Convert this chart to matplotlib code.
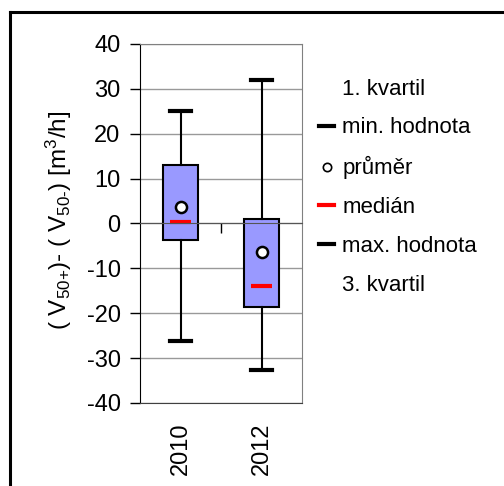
import matplotlib.pyplot as plt
from matplotlib.lines import Line2D

plt.rcParams['font.family'] = ['Liberation Sans', 'DejaVu Sans']
plt.rcParams['mathtext.fontset'] = 'custom'
plt.rcParams['mathtext.rm'] = 'Liberation Sans'
plt.rcParams['mathtext.it'] = 'Liberation Sans:italic'
plt.rcParams['axes.unicode_minus'] = False

years = ['2010', '2012']
whislo = [-26.1, -32.6]
q1 = [-3.7, -18.5]
med = [0.3, -13.9]
mean = [3.6, -6.3]
q3 = [13.1, 1.0]
whishi = [25.0, 32.0]

legend_labels = ['1. kvartil', 'min. hodnota', 'průměr', 'medián',
                 'max. hodnota', '3. kvartil']

fig = plt.figure(figsize=(5.04, 4.86), dpi=100)
ax = fig.add_axes([0.2778, 0.1708, 0.3214, 0.7387])

pos = [1, 2]
stats = [dict(whislo=whislo[i], q1=q1[i], med=med[i], mean=mean[i],
              q3=q3[i], whishi=whishi[i], fliers=[], label=years[i])
         for i in range(len(years))]
ax.bxp(stats, positions=pos, widths=0.42, showmeans=True, patch_artist=True,
       boxprops=dict(facecolor='#9999ff', edgecolor='black', linewidth=1.5),
       whiskerprops=dict(color='black', linewidth=1.5),
       capprops=dict(color='black', linewidth=3),
       capwidths=0.27,
       medianprops=dict(linestyle='none'),
       meanprops=dict(marker='o', markerfacecolor='white',
                      markeredgecolor='black', markersize=8, markeredgewidth=1.8,
                      zorder=5))
# median drawn shorter than the box, like the reference
ax.hlines(med, [p - 0.13 for p in pos], [p + 0.13 for p in pos],
          color='red', linewidth=3, zorder=4)

ax.set_xlim(0.5, 2.5)
ax.set_ylim(-40, 40)
ax.set_yticks(range(-40, 41, 10))
ax.yaxis.grid(True, color='#999999', linewidth=1)
ax.set_axisbelow(True)
ax.tick_params(axis='y', labelsize=17, length=7, width=1, color='black', pad=7)
ax.tick_params(axis='x', labelsize=17, length=0, pad=14, labelrotation=90)
ax.spines['left'].set_color('black')
ax.spines['bottom'].set_color('#404040')
for s in ['top', 'right']:
    ax.spines[s].set_color('#808080')
ax.set_ylabel(r'( V$_{\mathrm{50\text{+}}}$)- ( V$_{\mathrm{50\text{-}}}$) [m$^\mathrm{3}$/h]',
              fontsize=17.5)
ax.yaxis.set_label_coords(-0.41, 0.51)

# category axis crossing at zero
ax0 = ax.twiny()
ax0.set_xlim(ax.get_xlim())
ax0.xaxis.set_ticks_position('bottom')
ax0.spines['bottom'].set_position(('data', 0))
ax0.spines['bottom'].set_color('#555555')
for s in ['top', 'left', 'right']:
    ax0.spines[s].set_visible(False)
ax0.set_xticks([1.5])
ax0.set_xticklabels([])
ax0.tick_params(axis='x', length=7, width=1, color='black', direction='out')

handles = [
    Line2D([], [], color='none'),
    Line2D([], [], color='black', linewidth=3),
    Line2D([], [], linestyle='none', marker='o', markerfacecolor='white',
           markeredgecolor='black', markersize=6, markeredgewidth=1.2),
    Line2D([], [], color='red', linewidth=3),
    Line2D([], [], color='black', linewidth=3),
    Line2D([], [], color='none'),
]
fig.legend(handles, legend_labels, loc='upper left', bbox_to_anchor=(0.611, 0.861),
           frameon=False, fontsize=16, handlelength=0.68, handletextpad=0.36,
           labelspacing=0.8, borderpad=0)

# outer frame
fig.add_artist(Line2D([10 / 504, 10 / 504], [0, 1 - 12 / 486],
                      transform=fig.transFigure, color='black', linewidth=2.2))
fig.add_artist(Line2D([10 / 504, 1], [1 - 12 / 486, 1 - 12 / 486],
                      transform=fig.transFigure, color='black', linewidth=2.2))

plt.savefig('out.png', dpi=100)
